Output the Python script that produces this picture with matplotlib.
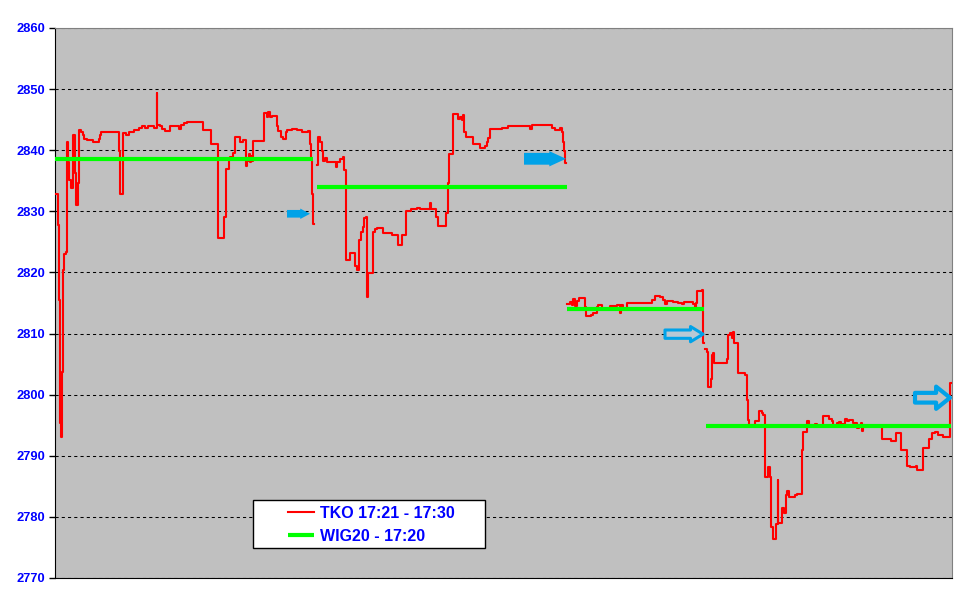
import matplotlib
matplotlib.use("Agg")
import matplotlib.pyplot as plt
from matplotlib.patches import Rectangle

plt.rcParams["font.family"] = ["Liberation Sans", "DejaVu Sans"]

#------------------------------------------------------------------------------
# TKO price, four sessions (time index, price)
s1_t = [1, 3, 4, 5, 5.7, 6.7, 7.7, 8.7, 10.7, 11.7, 12.3, 13.3, 14.3, 16, 18.3,
        19.7, 21, 23, 24.3, 26.3, 27.7, 28.7, 32.3, 37.7, 43.7, 45, 46, 64, 65,
        67.7, 71, 73.7, 79.3, 84.3, 86.7, 90, 93.3, 99.3, 101.7, 102.3, 105,
        106.7, 110, 115, 124.3, 126, 129.3, 132.3, 147.7, 156, 162.7, 169, 171,
        173.7, 175, 177.7, 180, 185, 188, 190.7, 192.3, 193.5, 194.5, 195.5,
        196.5, 198.3, 209.3, 212, 213, 214.5, 216.7, 221.7, 223.3, 226, 228.3,
        231, 232.3, 236.7, 241.7, 246.7, 250, 253.3, 255, 256, 257, 258, 259]
s1_v = [2832.9, 2827.7, 2815.5, 2795.3, 2793.1, 2803.7, 2820.4, 2823.0, 2823.4,
        2829.5, 2841.4, 2838.1, 2835.1, 2833.8, 2842.5, 2836.2, 2831.0, 2834.6,
        2843.3, 2843.0, 2842.5, 2841.8, 2841.7, 2841.4, 2841.8, 2842.5, 2842.9,
        2839.9, 2832.9, 2842.8, 2842.5, 2842.9, 2843.3, 2843.7, 2844.0, 2843.7,
        2843.9, 2843.6, 2849.3, 2844.2, 2843.9, 2843.4, 2843.2, 2844.0, 2843.5,
        2844.1, 2844.4, 2844.6, 2843.3, 2841.1, 2825.7, 2829.0, 2837.0, 2838.7,
        2838.9, 2839.5, 2842.1, 2841.4, 2841.7, 2837.5, 2838.3, 2839.3, 2838.0,
        2839.0, 2838.2, 2841.5, 2846.1, 2845.5, 2846.2, 2845.4, 2845.6, 2844.0,
        2843.2, 2842.1, 2841.8, 2842.9, 2843.3, 2843.5, 2843.3, 2843.0, 2842.9,
        2843.2, 2841.1, 2838.4, 2832.9, 2828.0, 2828.0]

s2_t = [261.7, 263.3, 265, 266.7, 268.3, 270, 271.7, 274, 280.7, 281.7, 285,
        287.7, 289, 290.7, 295.3, 300, 302.3, 303.7, 305.7, 307.7, 309, 311.3,
        312.3, 313.3, 318.3, 320, 321.7, 328.3, 332.7, 336.7, 343.3, 346.7,
        350.7, 356, 361.7, 365, 375, 376, 380.7, 382.7, 390.7, 392.7, 394,
        398.3, 403.3, 405, 406.7, 408.3, 409.3, 410.7, 418.3, 425, 430, 431.7,
        433.3, 435, 446.7, 453.3, 475, 476.7, 496.7, 500, 505, 506.7, 507.7,
        509, 510, 511]
s2_v = [2837.6, 2842.1, 2841.3, 2839.9, 2838.3, 2838.7, 2838.1, 2838.0, 2837.2,
        2838.1, 2838.5, 2838.9, 2836.8, 2822.0, 2823.2, 2821.0, 2820.4, 2825.3,
        2826.7, 2827.5, 2828.9, 2829.0, 2816.0, 2819.9, 2826.7, 2827.1, 2827.2,
        2826.5, 2826.4, 2826.2, 2824.5, 2826.1, 2830.1, 2830.4, 2830.6, 2830.4,
        2831.3, 2830.3, 2829.0, 2827.6, 2829.7, 2834.7, 2839.4, 2846.0, 2845.1,
        2845.5, 2845.0, 2845.8, 2842.9, 2842.1, 2841.0, 2840.4, 2840.7, 2841.4,
        2842.0, 2843.4, 2843.6, 2843.9, 2843.5, 2844.1, 2843.6, 2843.3, 2843.6,
        2843.0, 2841.4, 2839.8, 2837.9, 2837.9]

s3_t = [512.3, 515, 516.7, 518.3, 520, 521.7, 524.3, 530.3, 531, 535.7, 537.7,
        541.7, 543.3, 546.7, 555, 561.7, 565, 566, 568.3, 571.7, 596.7, 600,
        605, 608.3, 610, 611.7, 618.3, 623.3, 626.7, 629.3, 631.7, 638.3, 640,
        641, 642.3, 645, 646.7, 647.7, 648.5]
s3_v = [2814.9, 2815.2, 2814.7, 2815.6, 2814.5, 2815.4, 2815.8, 2814.4, 2812.8,
        2813.0, 2813.4, 2814.4, 2814.6, 2814.1, 2814.5, 2814.7, 2813.3, 2814.7,
        2814.1, 2815.0, 2815.5, 2816.1, 2816.0, 2815.5, 2814.8, 2815.4, 2815.2,
        2815.0, 2814.8, 2815.1, 2815.2, 2814.9, 2814.4, 2815.0, 2816.9, 2817.0,
        2817.1, 2808.4, 2808.4]

s4_t = [650, 651.7, 652.7, 655.7, 656.7, 658.3, 659, 672.3, 673.3, 675, 676.7,
        677.7, 679.3, 682.7, 688.3, 690, 691.7, 692.7, 694, 700, 704.3, 706.7,
        708.3, 710.3, 713.3, 715, 716, 717.7, 721, 722.7, 723.3, 727.3, 729,
        730.7, 732.3, 734, 740, 742.3, 746.7, 748.3, 752.3, 754.3, 760, 761.7,
        763.3, 767.7, 774, 776.7, 777.7, 781.7, 784.3, 785.7, 790, 791.7, 794.3,
        798.3, 802.3, 804.3, 805.7, 807.3, 808.3, 810, 826.7, 835.7, 841, 845.7,
        852.3, 855, 861, 862.3, 868.3, 874.3, 877.3, 880, 883.3, 888.3, 895,
        895.7]
s4_v = [2807.4, 2807.0, 2801.3, 2802.5, 2806.5, 2806.8, 2805.2, 2805.9, 2809.8,
        2810.1, 2809.2, 2810.3, 2808.4, 2803.5, 2803.6, 2803.2, 2799.1, 2795.9,
        2795.0, 2795.7, 2797.4, 2797.0, 2796.7, 2786.6, 2788.2, 2786.6, 2778.4,
        2776.3, 2778.9, 2786.0, 2779.0, 2781.4, 2780.7, 2783.6, 2784.3, 2783.2,
        2783.6, 2783.7, 2790.9, 2793.9, 2795.7, 2795.0, 2795.2, 2794.9, 2794.8,
        2796.5, 2796.1, 2795.7, 2795.0, 2795.4, 2795.6, 2795.2, 2796.0, 2795.7,
        2795.9, 2795.3, 2794.5, 2794.9, 2795.4, 2794.1, 2795.0, 2794.9, 2792.7,
        2792.5, 2793.7, 2790.9, 2788.3, 2788.1, 2788.4, 2787.6, 2791.2, 2792.7,
        2793.8, 2793.9, 2793.4, 2793.1, 2801.9, 2801.9]

# WIG20 reference level per session: (start, end, level)
wig_start = [0, 261.7, 511.7, 651]
wig_end = [258, 511.7, 649, 895.7]
wig_level = [2838.5, 2833.9, 2814.1, 2794.8]

# arrows: (tail, tip, level)
arrow_tail = [232, 469, 610, 860]
arrow_tip = [255, 511, 648, 895]
arrow_level = [2829.6, 2838.6, 2809.9, 2799.5]

yticks = [2770, 2780, 2790, 2800, 2810, 2820, 2830, 2840, 2850, 2860]

#------------------------------------------------------------------------------
fig = plt.figure(figsize=(9.7, 6.04), dpi=100)
ax = fig.add_axes([55 / 970, 26 / 604, 897 / 970, 550 / 604])
ax.set_facecolor("#c0c0c0")

sessions = [(s1_t, s1_v), (s2_t, s2_v), (s3_t, s3_v), (s4_t, s4_v)]
for i, (t, v) in enumerate(sessions):
    ax.plot(t, v, color="#ff0000", lw=1.5, drawstyle="steps-post",
            label="TKO 17:21 - 17:30" if i == 0 else None, zorder=3)

for i in range(len(wig_level)):
    ax.plot([wig_start[i], wig_end[i]], [wig_level[i]] * 2, color="#00ff00",
            lw=3, solid_capstyle="butt",
            label="WIG20 - 17:20" if i == 0 else None, zorder=4)

# blue arrows
arrow_spec = [
    dict(hw=7.5, hl=7, tw=5.5, fc="#00a2e8", lw=0),
    dict(hw=11, hl=12, tw=8.5, fc="#00a2e8", lw=0),
    dict(hw=11, hl=9, tw=6, fc="#b8c8d4", lw=2.2),
    dict(hw=16, hl=10, tw=7, fc="#c0c0c0", lw=3),
]
for i, sp in enumerate(arrow_spec):
    style = f"simple,head_width={sp['hw']},head_length={sp['hl']},tail_width={sp['tw']}"
    ax.annotate("", xy=(arrow_tip[i], arrow_level[i]),
                xytext=(arrow_tail[i], arrow_level[i]),
                arrowprops=dict(arrowstyle=style, mutation_scale=1,
                                fc=sp["fc"], ec="#00a2e8", lw=sp["lw"],
                                shrinkA=0, shrinkB=0),
                zorder=6)

ax.set_xlim(0, 897)
ax.set_ylim(2770, 2860)
ax.set_xticks([])
ax.set_yticks(yticks)
ax.tick_params(axis="y", length=4, width=1, pad=3, labelsize=9.3,
               labelcolor="#0000ff")
for lab in ax.get_yticklabels():
    lab.set_fontweight("bold")

ax.yaxis.grid(True, color="black", lw=0.75, linestyle=(0, (3, 3)))
ax.set_axisbelow(True)

ax.spines["left"].set_color("black")
ax.spines["bottom"].set_color("black")
ax.spines["top"].set_color("#808080")
ax.spines["right"].set_color("#808080")

# legend frame drawn as a plain box, legend content placed inside
ax.add_patch(Rectangle((0.2207, 0.0545), 0.2586, 0.0873, transform=ax.transAxes,
                       fc="white", ec="black", lw=1, zorder=7))
leg = ax.legend(loc="upper left", bbox_to_anchor=(0.2598, 0.131),
                borderaxespad=0, borderpad=0, frameon=False,
                handlelength=1.6, handletextpad=0.4, labelspacing=0.5,
                prop=dict(size=11.5, weight="bold"))
leg.set_zorder(8)
for txt in leg.get_texts():
    txt.set_color("#0000ff")

fig.savefig("out.png", dpi=100)
